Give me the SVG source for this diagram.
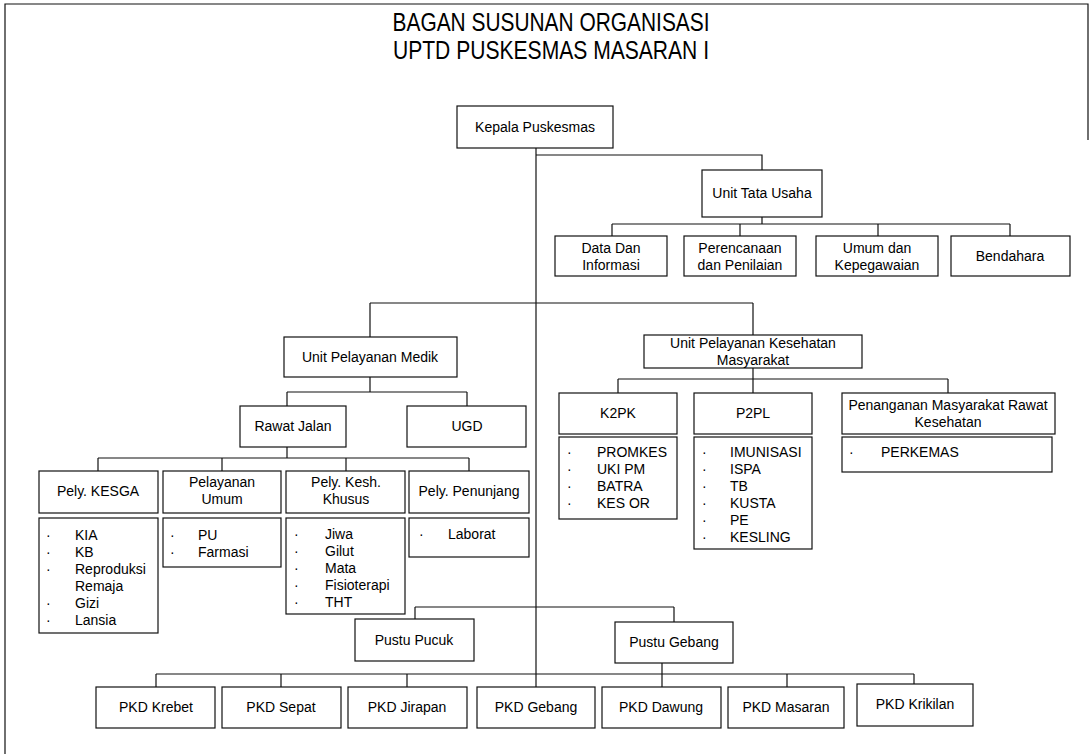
<svg xmlns="http://www.w3.org/2000/svg" width="1092" height="754" viewBox="0 0 1092 754">
<style>
.b{fill:#fff;stroke:#111;stroke-width:1.2}
.c{fill:none;stroke:#111;stroke-width:1.2}
text{font-family:"Liberation Sans",Arial,sans-serif;font-size:14px;fill:#000}
.m{text-anchor:middle}
.t{font-size:25px}
</style>
<rect x="0" y="0" width="1092" height="754" fill="#fff"/>
<g id="frame" class="c"><path d="M5,754 V4 H1088 V140"/></g>
<g id="title">
<text class="m t" x="551" y="31" textLength="317" lengthAdjust="spacingAndGlyphs">BAGAN SUSUNAN ORGANISASI</text>
<text class="m t" x="551" y="59" textLength="316" lengthAdjust="spacingAndGlyphs">UPTD PUSKESMAS MASARAN I</text>
</g>
<g id="connectors" class="c">
<path d="M536,148 V688"/>
<path d="M536,155 H762 V170"/>
<path d="M762,217 V224 M612,224 H1010 M612,224 V236 M740,224 V236 M878,224 V236 M1010,224 V236"/>
<path d="M370,303 H753 M370,303 V337 M753,303 V335"/>
<path d="M370,377 V392 M287,392 H467 M287,392 V406 M467,392 V406"/>
<path d="M287,447 V458 M98,458 H469 M98,458 V471 M222,458 V471 M346,458 V471 M469,458 V471"/>
<path d="M753,368 V393 M618,379 H948 M618,379 V393 M948,379 V393"/>
<path d="M415,607 H674 M415,607 V619 M674,607 V622"/>
<path d="M156,674 H914 M156,674 V687 M281,674 V687 M407,674 V687 M662,663 V687 M787,674 V687 M914,674 V684"/>
</g>
<g id="kepala"><rect class="b" x="457" y="106" width="156" height="42"/><text class="m" x="535" y="132">Kepala Puskesmas</text></g>
<g id="tata-usaha"><rect class="b" x="702" y="170" width="120" height="47"/><text class="m" x="762" y="198">Unit Tata Usaha</text></g>
<g id="data"><rect class="b" x="555" y="236" width="112" height="40"/><text class="m" x="611" y="253">Data Dan</text><text class="m" x="611" y="270">Informasi</text></g>
<g id="perencanaan"><rect class="b" x="684" y="236" width="112" height="40"/><text class="m" x="740" y="253">Perencanaan</text><text class="m" x="740" y="270">dan Penilaian</text></g>
<g id="umum"><rect class="b" x="816" y="236" width="122" height="40"/><text class="m" x="877" y="253">Umum dan</text><text class="m" x="877" y="270">Kepegawaian</text></g>
<g id="bendahara"><rect class="b" x="951" y="236" width="119" height="40"/><text class="m" x="1010" y="261">Bendahara</text></g>
<g id="upm"><rect class="b" x="284" y="337" width="173" height="40"/><text class="m" x="370" y="362">Unit Pelayanan Medik</text></g>
<g id="upkm"><rect class="b" x="644" y="335" width="218" height="33"/><text class="m" x="753" y="348">Unit Pelayanan Kesehatan</text><text class="m" x="753" y="365">Masyarakat</text></g>
<g id="rawat-jalan"><rect class="b" x="240" y="406" width="106" height="41"/><text class="m" x="293" y="431">Rawat Jalan</text></g>
<g id="ugd"><rect class="b" x="407" y="406" width="119" height="41"/><text class="m" x="467" y="431">UGD</text></g>
<g id="kesga"><rect class="b" x="39" y="471" width="119" height="42"/><text class="m" x="98" y="496">Pely. KESGA</text>
<rect class="b" x="39" y="518" width="119" height="115"/>
<text x="46" y="540">·</text><text x="75" y="540">KIA</text>
<text x="46" y="557">·</text><text x="75" y="557">KB</text>
<text x="46" y="574">·</text><text x="75" y="574">Reproduksi</text>
<text x="75" y="591">Remaja</text>
<text x="46" y="608">·</text><text x="75" y="608">Gizi</text>
<text x="46" y="625">·</text><text x="75" y="625">Lansia</text></g>
<g id="pel-umum"><rect class="b" x="163" y="471" width="118" height="42"/><text class="m" x="222" y="487">Pelayanan</text><text class="m" x="222" y="504">Umum</text>
<rect class="b" x="163" y="518" width="118" height="49"/>
<text x="170" y="540">·</text><text x="198" y="540">PU</text>
<text x="170" y="557">·</text><text x="198" y="557">Farmasi</text></g>
<g id="kesh-khusus"><rect class="b" x="286" y="471" width="119" height="42"/><text class="m" x="346" y="487">Pely. Kesh.</text><text class="m" x="346" y="504">Khusus</text>
<rect class="b" x="286" y="518" width="119" height="96"/>
<text x="294" y="539">·</text><text x="325" y="539">Jiwa</text>
<text x="294" y="556">·</text><text x="325" y="556">Gilut</text>
<text x="294" y="573">·</text><text x="325" y="573">Mata</text>
<text x="294" y="590">·</text><text x="325" y="590">Fisioterapi</text>
<text x="294" y="607">·</text><text x="325" y="607">THT</text></g>
<g id="penunjang"><rect class="b" x="409" y="471" width="120" height="42"/><text class="m" x="469" y="496">Pely. Penunjang</text>
<rect class="b" x="409" y="518" width="120" height="39"/>
<text x="419" y="539">·</text><text x="448" y="539">Laborat</text></g>
<g id="k2pk"><rect class="b" x="559" y="393" width="118" height="41"/><text class="m" x="618" y="418">K2PK</text>
<rect class="b" x="559" y="437" width="118" height="82"/>
<text x="567" y="457">·</text><text x="597" y="457">PROMKES</text>
<text x="567" y="474">·</text><text x="597" y="474">UKI PM</text>
<text x="567" y="491">·</text><text x="597" y="491">BATRA</text>
<text x="567" y="508">·</text><text x="597" y="508">KES OR</text></g>
<g id="p2pl"><rect class="b" x="694" y="393" width="118" height="41"/><text class="m" x="753" y="418">P2PL</text>
<rect class="b" x="694" y="437" width="118" height="112"/>
<text x="702" y="457">·</text><text x="730" y="457">IMUNISASI</text>
<text x="702" y="474">·</text><text x="730" y="474">ISPA</text>
<text x="702" y="491">·</text><text x="730" y="491">TB</text>
<text x="702" y="508">·</text><text x="730" y="508">KUSTA</text>
<text x="702" y="525">·</text><text x="730" y="525">PE</text>
<text x="702" y="542">·</text><text x="730" y="542">KESLING</text></g>
<g id="penanganan"><rect class="b" x="842" y="393" width="213" height="41"/><text class="m" x="948" y="410">Penanganan Masyarakat Rawat</text><text class="m" x="948" y="427">Kesehatan</text>
<rect class="b" x="842" y="437" width="210" height="35"/>
<text x="849" y="457">·</text><text x="881" y="457">PERKEMAS</text></g>
<g id="pustu-pucuk"><rect class="b" x="355" y="619" width="119" height="42"/><text class="m" x="414" y="645">Pustu Pucuk</text></g>
<g id="pustu-gebang"><rect class="b" x="615" y="622" width="118" height="41"/><text class="m" x="674" y="647">Pustu Gebang</text></g>
<g id="pkd-krebet"><rect class="b" x="96" y="687" width="119" height="41"/><text class="m" x="156" y="712">PKD Krebet</text></g>
<g id="pkd-sepat"><rect class="b" x="222" y="687" width="119" height="41"/><text class="m" x="281" y="712">PKD Sepat</text></g>
<g id="pkd-jirapan"><rect class="b" x="348" y="687" width="119" height="41"/><text class="m" x="407" y="712">PKD Jirapan</text></g>
<g id="pkd-gebang"><rect class="b" x="477" y="687" width="118" height="41"/><text class="m" x="536" y="712">PKD Gebang</text></g>
<g id="pkd-dawung"><rect class="b" x="602" y="687" width="119" height="41"/><text class="m" x="661" y="712">PKD Dawung</text></g>
<g id="pkd-masaran"><rect class="b" x="728" y="687" width="116" height="41"/><text class="m" x="786" y="712">PKD Masaran</text></g>
<g id="pkd-krikilan"><rect class="b" x="857" y="684" width="116" height="42"/><text class="m" x="915" y="709">PKD Krikilan</text></g>
</svg>
